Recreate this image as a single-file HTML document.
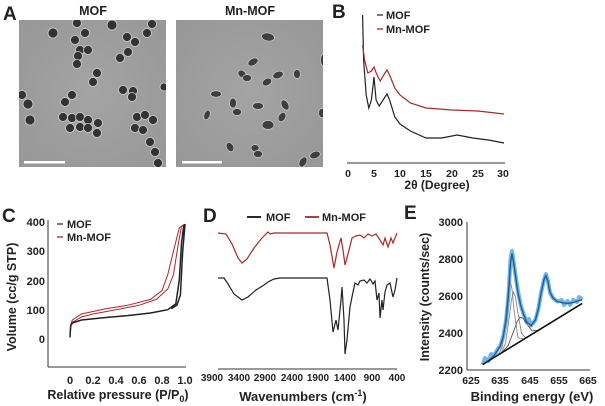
<!DOCTYPE html>
<html><head><meta charset="utf-8"><style>
html,body{margin:0;padding:0;background:#fff}
svg{display:block}
text{font-family:"Liberation Sans",sans-serif;font-weight:bold;fill:#222}
</style></head><body>
<svg width="605" height="406" viewBox="0 0 605 406" xmlns="http://www.w3.org/2000/svg">
<defs>
<clipPath id="cl"><rect x="19" y="20" width="147" height="147"/></clipPath>
<clipPath id="cr"><rect x="176" y="20" width="147" height="147"/></clipPath>
<radialGradient id="gb" cx="0.5" cy="0.5" r="0.8"><stop offset="0" stop-color="#a4a4a4"/><stop offset="1" stop-color="#959595"/></radialGradient>
</defs>
<!-- A -->
<text x="3" y="20" font-size="19">A</text>
<text x="93" y="15" font-size="12.5" text-anchor="middle">MOF</text>
<text x="250" y="15" font-size="12.5" text-anchor="middle">Mn-MOF</text>
<rect x="19" y="20" width="147" height="147" fill="url(#gb)"/>
<rect x="176" y="20" width="147" height="147" fill="url(#gb)"/>
<g clip-path="url(#cl)" fill="#333" stroke="#cfcfcf" stroke-width="0.8">
<circle cx="53" cy="33" r="5"/><circle cx="77" cy="23" r="4.5"/><circle cx="85" cy="33" r="4.5"/><circle cx="75" cy="40" r="4.5"/><circle cx="80" cy="50" r="4.5"/><circle cx="88" cy="50" r="4.5"/><circle cx="78" cy="56" r="4.5"/><circle cx="77" cy="64" r="4.5"/><circle cx="112" cy="25" r="5"/><circle cx="152" cy="24" r="4.5"/><circle cx="147" cy="33" r="4.5"/><circle cx="127" cy="37" r="4.5"/><circle cx="135" cy="42" r="4.5"/><circle cx="128" cy="52" r="4.5"/><circle cx="120" cy="58" r="4.5"/><circle cx="97" cy="73" r="4.5"/><circle cx="93" cy="82" r="4.5"/><circle cx="164" cy="87" r="4"/><circle cx="123" cy="90" r="4.5"/><circle cx="133" cy="91" r="4.5"/><circle cx="132" cy="97" r="4.5"/><circle cx="22" cy="95" r="4.5"/><circle cx="28" cy="104" r="5"/><circle cx="72" cy="95" r="4.5"/><circle cx="65" cy="102" r="4.5"/><circle cx="30" cy="120" r="5"/><circle cx="63" cy="117" r="4.5"/><circle cx="72" cy="118" r="4.5"/><circle cx="80" cy="117" r="4.5"/><circle cx="88" cy="120" r="4.5"/><circle cx="98" cy="123" r="4.5"/><circle cx="70" cy="128" r="4.5"/><circle cx="80" cy="127" r="4.5"/><circle cx="88" cy="128" r="4.5"/><circle cx="97" cy="133" r="4.5"/><circle cx="137" cy="117" r="4.5"/><circle cx="145" cy="115" r="4.5"/><circle cx="153" cy="120" r="4.5"/><circle cx="135" cy="128" r="4.5"/><circle cx="143" cy="130" r="4.5"/><circle cx="150" cy="142" r="4.5"/><circle cx="155" cy="152" r="4.5"/><circle cx="158" cy="163" r="4.5"/>
</g>
<g clip-path="url(#cr)" fill="#3e3e3e" stroke="#cfcfcf" stroke-width="0.7">
<ellipse cx="268" cy="37" rx="6.5" ry="4" transform="rotate(10 268 37)"/><ellipse cx="253" cy="62" rx="5.5" ry="3.5" transform="rotate(-30 253 62)"/><ellipse cx="242" cy="74" rx="4.5" ry="3.5" transform="rotate(40 242 74)"/><ellipse cx="247" cy="78" rx="4.5" ry="3.5"/><ellipse cx="267" cy="82" rx="5" ry="3.5" transform="rotate(-30 267 82)"/><ellipse cx="278" cy="75" rx="5.5" ry="3.5" transform="rotate(-20 278 75)"/><ellipse cx="297" cy="74" rx="3.5" ry="4.5"/><ellipse cx="216" cy="94" rx="5.5" ry="3.2"/><ellipse cx="233" cy="103" rx="3.5" ry="5"/><ellipse cx="237" cy="112" rx="4.5" ry="3.5"/><ellipse cx="258" cy="106" rx="5.5" ry="3.5"/><ellipse cx="285" cy="105" rx="3.5" ry="5.5" transform="rotate(-30 285 105)"/><ellipse cx="282" cy="117" rx="3.5" ry="5" transform="rotate(30 282 117)"/><ellipse cx="207" cy="115" rx="3" ry="5" transform="rotate(20 207 115)"/><ellipse cx="268" cy="125" rx="6" ry="4.5"/><ellipse cx="230" cy="147" rx="3.5" ry="5" transform="rotate(-30 230 147)"/><ellipse cx="255" cy="148" rx="4" ry="3.5"/><ellipse cx="258" cy="154" rx="4.5" ry="3.5"/><ellipse cx="315" cy="155" rx="5.5" ry="3.5" transform="rotate(-20 315 155)"/><ellipse cx="322" cy="113" rx="3.5" ry="4.5"/><ellipse cx="303" cy="162" rx="3.5" ry="5.5" transform="rotate(30 303 162)"/><ellipse cx="323" cy="60" rx="2.5" ry="5.5"/>
</g>
<rect x="24" y="161" width="41" height="2.5" fill="#fff"/>
<rect x="182" y="161" width="40" height="2.5" fill="#fff"/>

<!-- B -->
<text x="332" y="18" font-size="19">B</text>
<line x1="377" y1="15" x2="383" y2="15" stroke="#333" stroke-width="1.3"/><text x="386" y="19" font-size="11">MOF</text>
<line x1="377" y1="29" x2="383" y2="29" stroke="#a52a2a" stroke-width="1.3"/><text x="386" y="33" font-size="11">Mn-MOF</text>
<polyline fill="none" stroke="#222" stroke-width="1.2" points="362.6,15 363.6,60 366.2,95 368.8,108 371.4,100 374,77 376.1,100 379.2,106 384.4,98 387,94 389.6,100 394.8,117 400,124 410.4,131 426,138 441.6,138 457.2,135 472.8,138 488.4,140 504,143"/>
<polyline fill="none" stroke="#a52a2a" stroke-width="1.2" points="362.6,45 364.6,60 367.8,73 371.4,71 374,67 376.6,74 380.2,81 384.4,74 387,70 389.6,75 394.8,88 400,95 410.4,103 426,108 452,110 478,111 504,114"/>
<line x1="347" y1="163" x2="505" y2="163" stroke="#333" stroke-width="1"/>
<g font-size="10.5" text-anchor="middle">
<text x="348" y="177">0</text><text x="374" y="177">5</text><text x="400" y="177">10</text><text x="426" y="177">15</text><text x="452" y="177">20</text><text x="478" y="177">25</text><text x="503" y="177">30</text>
</g>
<text x="437" y="189" font-size="12" text-anchor="middle">2θ (Degree)</text>

<!-- C -->
<text x="2" y="222" font-size="19">C</text>
<line x1="48" y1="220" x2="48" y2="367" stroke="#333"/>
<line x1="48" y1="367" x2="186" y2="367" stroke="#333"/>
<g font-size="11" text-anchor="end">
<text x="45" y="226">400</text><text x="45" y="255">300</text><text x="45" y="285">200</text><text x="45" y="314">100</text><text x="45" y="343">0</text>
</g>
<g font-size="11" text-anchor="middle">
<text x="70" y="384">0</text><text x="93" y="384">0.2</text><text x="116" y="384">0.4</text><text x="139" y="384">0.6</text><text x="162" y="384">0.8</text><text x="185" y="384">1.0</text>
</g>
<text x="118" y="399" font-size="12.5" text-anchor="middle">Relative pressure (P/P<tspan font-size="9" dy="3">0</tspan><tspan dy="-3">)</tspan></text>
<text transform="translate(16,297) rotate(-90)" font-size="12.5" text-anchor="middle">Volume (cc/g STP)</text>
<line x1="57" y1="224" x2="63" y2="224" stroke="#333" stroke-width="1.3"/><text x="67" y="228" font-size="11">MOF</text>
<line x1="57" y1="237" x2="63" y2="237" stroke="#a52a2a" stroke-width="1.3"/><text x="67" y="241" font-size="11">Mn-MOF</text>
<polyline fill="none" stroke="#a52a2a" stroke-width="1" points="70,337.5 71.2,322.9 81.5,317 93,314 116,309.7 139,305.3 156.3,299.4 167.8,289 173.5,274.5 178.1,245 181.6,226 185,224.7 179.3,227.7 173.5,251 167.8,274.5 162,290.7 150.5,299.4 127.5,305.3 104.5,309 81.5,314 72.3,320 70.6,325"/>
<polyline fill="none" stroke="#222" stroke-width="1.5" points="70,337.5 70.6,326 72.3,323 81.5,320 104.5,317.6 127.5,315.6 150.5,313 167.8,309.7 175.8,303.8 179.3,280 181.6,242 183.9,225 185,224.7 182.7,251 180.4,295 177,305 171.2,308.8"/>

<!-- D -->
<text x="203" y="222" font-size="19">D</text>
<line x1="247" y1="217" x2="261" y2="217" stroke="#111" stroke-width="1.8"/><text x="266" y="221" font-size="11">MOF</text>
<line x1="305" y1="217" x2="319" y2="217" stroke="#a52a2a" stroke-width="1.8"/><text x="322" y="221" font-size="11">Mn-MOF</text>
<polyline fill="none" stroke="#a52a2a" stroke-width="1.2" points="218,233 226,234 232,244 238,258 242,263 247,259 254,248 262,238 266,234 268,232 270,234 274,233 327,233 330,245 334,268 337,252 341,238 343,250 345,265 348,254 352,238 356,236 360,235 364,238 368,234 372,236 376,234 380,240 383,245 385,238 388,247 391,238 393,243 395,238 397,233"/>
<polyline fill="none" stroke="#222" stroke-width="1.2" points="218,278 224,278 228,284 234,294 242,300 248,297 256,290 264,285 268,282 274,279 280,278 327,278 330,300 333,332 336,320 338,330 341,300 342,287 344,320 345,354 347,340 350,307 353,292 355,283 358,285 360,281 364,280 367,283 370,279 373,284 375,281 377,300 379,293 380,318 382,300 383,310 385,292 387,285 390,283 393,297 395,290 397,278"/>
<line x1="218" y1="369" x2="397" y2="369" stroke="#333"/>
<g font-size="10" text-anchor="middle">
<text x="212" y="381">3900</text><text x="239" y="381">3400</text><text x="265" y="381">2900</text><text x="292" y="381">2400</text><text x="318" y="381">1900</text><text x="345" y="381">1400</text><text x="372" y="381">900</text><text x="397" y="381">400</text>
</g>
<text x="303" y="401" font-size="13" text-anchor="middle">Wavenumbers (cm<tspan font-size="9" dy="-5">-1</tspan><tspan dy="5">)</tspan></text>

<!-- E -->
<text x="404" y="219" font-size="19">E</text>
<line x1="467" y1="222" x2="467" y2="370" stroke="#333"/>
<line x1="467" y1="370" x2="590" y2="370" stroke="#333"/>
<g font-size="11" text-anchor="end">
<text x="463" y="226">3000</text><text x="463" y="263">2800</text><text x="463" y="300">2600</text><text x="463" y="337">2400</text><text x="463" y="374">2200</text>
</g>
<g font-size="10.5" text-anchor="middle" style="font-family:'Liberation Serif',serif;font-weight:normal">
<text x="471" y="384">625</text><text x="500" y="384">635</text><text x="530" y="384">645</text><text x="559" y="384">655</text><text x="588" y="384">665</text>
</g>
<text x="532" y="401" font-size="13" text-anchor="middle">Binding energy (eV)</text>
<text transform="translate(429,297) rotate(-90)" font-size="12.5" text-anchor="middle">Intensity (counts/sec)</text>
<polyline fill="none" stroke="#6fb6ea" stroke-width="4" stroke-linejoin="round" points="482.7,364.5 485,358 488.6,361 491,354 494.4,355.2 497,350 500.3,346 503.2,336.7 506.1,320 508.4,296 510.5,260 512,251 513.7,262.7 515.8,277.5 517.8,290 520.7,305.3 523.7,314.5 526.6,322 529,319 531,325.6 535.4,320 538.3,309 541.2,292.3 544.1,279.4 545.9,274 547.9,281 550,292.3 552.9,297.9 557.3,301.5 561.7,300 564,305 567.5,301 570,305 573.4,300 577,302 579.2,297 582.2,299.7"/>
<polyline fill="none" stroke="#888" stroke-width="0.9" points="498,354.9 502,347.7 506,315 508,291.5 510,280 512,289 514,310 518,337.9 524,339.1"/>
<polyline fill="none" stroke="#888" stroke-width="0.9" points="501.5,352.4 505.5,343.3 509.5,315.3 511.5,299.6 513.5,292 515.5,297.2 517.5,310.5 521.5,333.5 525.5,337.6 529.5,335.8"/>
<polyline fill="none" stroke="#555" stroke-width="0.9" points="502,352.3 508,345.7 514,330.3 517,321.9 520,317 523,318.2 526,322.9 532,330.9 538,330.2 544,326.9"/>
<polyline fill="none" stroke="#1f5f95" stroke-width="1.4" points="482.7,364.5 488.6,360.8 494.4,355.2 500.3,346 503.2,336.7 506.1,320 508.4,296 510.5,262.7 512,253.5 513.7,262.7 515.8,277.5 517.8,292.3 520.7,305.3 523.7,314.5 526.6,322 531,325.6 535.4,320 538.3,309 541.2,292.3 544.1,279.4 545.9,275.6 547.9,281 550,292.3 552.9,297.9 557.3,301.5 561.7,302.5 567.5,303.4 573.4,302.5 579.2,300.6 582.2,299.7"/>
<line x1="482.7" y1="364.5" x2="582.2" y2="303.4" stroke="#111" stroke-width="1.6"/>
</svg>
</body></html>
